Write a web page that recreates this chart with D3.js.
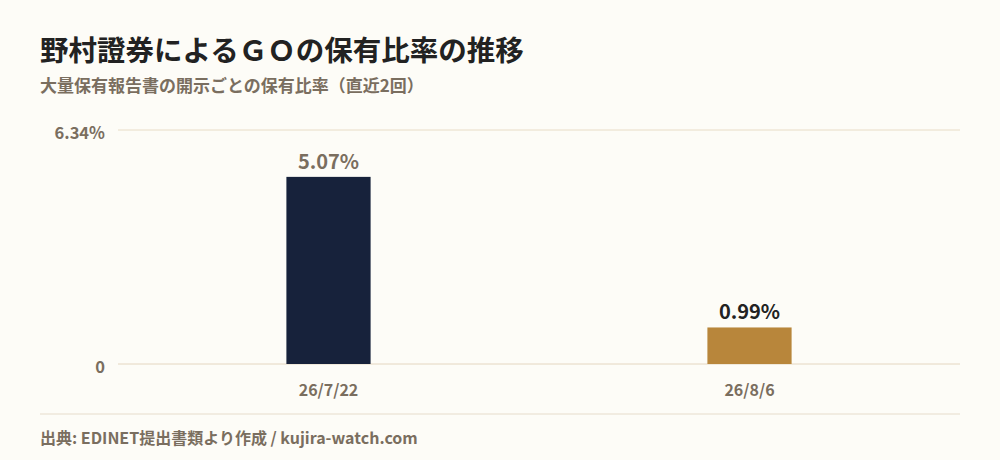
<!DOCTYPE html>
<html>
<head>
<meta charset="utf-8">
<script src="https://cdn.jsdelivr.net/npm/d3@7"></script>
<style>
  html, body { margin: 0; padding: 0; background: #fdfcf7; }
  svg { display: block; font-family: "Noto Sans CJK JP", "Noto Sans", sans-serif; }
</style>
</head>
<body>
<svg id="chart"></svg>
<script>
const dates = ['26/7/22', '26/8/6'];
const ratios = [5.07, 0.99];
const barColors = ['#17223b', '#b8863b'];
const labelColors = ['#7a6e5f', '#222222'];
const yTicks = [0, 6.34];

const width = 1000, height = 460;
const margin = { left: 118, right: 40, top: 130, bottom: 96 };

const svg = d3.select('#chart')
    .attr('width', width)
    .attr('height', height);

svg.append('rect')
    .attr('width', width).attr('height', height)
    .attr('fill', '#fdfcf7');

// --- titres ---
svg.append('text')
    .attr('x', 40).attr('y', 61)
    .attr('font-size', 28.5).attr('font-weight', 700)
    .attr('fill', '#222')
    .text('野村證券によるＧＯの保有比率の推移');

svg.append('text')
    .attr('x', 40).attr('y', 92)
    .attr('font-size', 17).attr('font-weight', 700)
    .attr('fill', '#7a6e5f')
    .text('大量保有報告書の開示ごとの保有比率（直近2回）');

const x = d3.scaleBand()
    .domain(dates)
    .range([margin.left, width - margin.right])
    .paddingInner(0.8)
    .paddingOuter(0.4);

const y = d3.scaleLinear()
    .domain([0, 6.34])
    .range([height - margin.bottom, margin.top]);

// grille
svg.append('g')
    .selectAll('line')
    .data(yTicks)
    .join('line')
    .attr('x1', margin.left)
    .attr('x2', width - margin.right)
    .attr('y1', d => y(d))
    .attr('y2', d => y(d))
    .attr('stroke', d => d === 0 ? '#e4d6c0' : '#e8dcc6')
    .attr('stroke-width', 1);

svg.append('g')
    .selectAll('text')
    .data(yTicks)
    .join('text')
    .attr('x', 105)
    .attr('y', d => y(d) + 9)
    .attr('text-anchor', 'end')
    .attr('font-size', 16.5).attr('font-weight', 700)
    .attr('fill', '#7a6e5f')
    .text(d => d === 0 ? '0' : d3.format('.2f')(d) + '%');

// barres
svg.append('g')
    .selectAll('rect')
    .data(ratios)
    .join('rect')
    .attr('x', (d, i) => x(dates[i]))
    .attr('width', x.bandwidth())
    .attr('y', d => y(d))
    .attr('height', d => y(0) - y(d))
    .attr('fill', (d, i) => barColors[i]);

svg.append('g')
    .selectAll('text')
    .data(ratios)
    .join('text')
    .attr('x', (d, i) => x(dates[i]) + x.bandwidth() / 2)
    .attr('y', d => y(d) - 8)
    .attr('text-anchor', 'middle')
    .attr('font-size', 20).attr('font-weight', 700)
    .attr('fill', (d, i) => labelColors[i])
    .text(d => d3.format('.2f')(d) + '%');

// axe x
svg.append('g')
    .selectAll('text')
    .data(dates)
    .join('text')
    .attr('x', d => x(d) + x.bandwidth() / 2)
    .attr('y', y(0) + 32)
    .attr('text-anchor', 'middle')
    .attr('font-size', 16).attr('font-weight', 700)
    .attr('fill', '#7a6e5f')
    .text(d => d);

// pied de page
svg.append('line')
    .attr('x1', 40).attr('x2', width - margin.right)
    .attr('y1', 414).attr('y2', 414)
    .attr('stroke', '#e6dccb');

svg.append('text')
    .attr('x', 40).attr('y', 444)
    .attr('font-size', 16).attr('font-weight', 700)
    .attr('fill', '#7a6e5f')
    .text('出典: EDINET提出書類より作成 / kujira-watch.com');
</script>
</body>
</html>
